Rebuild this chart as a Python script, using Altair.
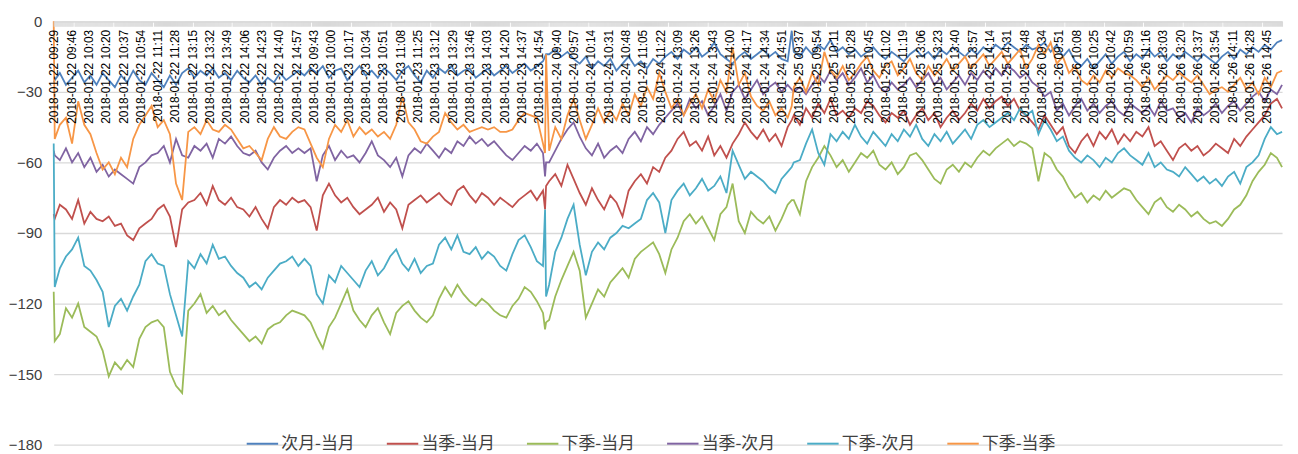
import json
import altair as alt
import pandas as pd

# ---------------- categories (minute bars) ----------------
days = ["2018-01-22", "2018-01-23", "2018-01-24", "2018-01-25", "2018-01-26"]
times = []
for di, d in enumerate(days):
    if di == 0:
        times.append(f"{d} 09:29")
    for m in range(9 * 60 + 30, 11 * 60 + 31):
        times.append(f"{d} {m // 60:02d}:{m % 60:02d}")
    for m in range(13 * 60 + 1, 15 * 60 + 1):
        times.append(f"{d} {m // 60:02d}:{m % 60:02d}")
tick_labels = times[::17]
n_cat = len(times)

# sampled category positions (index into times)
sample_idx = ([0, 1] + list(range(6, 481, 6)) + [482, 483] + list(range(486, 721, 6))
              + [724] + list(range(726, 1201, 6)) + [1205])

series_names = ["次月-当月", "当季-当月", "下季-当月", "当季-次月", "下季-次月", "下季-当季"]
series_colors = ["#4F81BD", "#C0504D", "#9BBB59", "#8064A2", "#4BACC6", "#F79646"]

# ---------------- values ----------------
blue = ([-26, -25, -22, -27, -24, -21, -26, -23, -27, -22, -25, -28, -23, -26, -21, -25, -27, -22, -25, -28, -23,
         -27, -22, -20, -24, -21, -23, -20, -24, -22, -25, -21, -24, -26, -23, -27, -24, -26, -22, -25, -23, -21]
        + [-23, -20, -22, -19, -24, -21, -20, -25, -22, -19, -23, -21, -24, -20, -22, -25, -21, -19, -23, -26,
           -21, -24, -20, -22, -19, -23, -21, -20, -24, -22, -20, -23, -21, -19, -22, -20, -18, -21, -19, -17]
        + [-15, -14]
        + [-14, -12, -15, -13, -16, -18, -15, -20, -17, -19, -16, -21, -18, -15, -19, -17, -20, -16, -18, -15,
           -13, -16, -12, -14, -11, -15, -13, -9, -14, -16, -18, -15, -13, -16, -14, -12, -15, -13, -16, -17]
        + [-4]
        + [-13, -15, -11, -14, -10, -12, -8, -13, -11, -14, -12, -15, -13, -11, -14, -16, -13, -15, -17, -14,
           -12, -15, -13, -16, -12, -14, -11, -13, -15, -12, -14, -11, -13, -10, -12, -9, -11, -13, -10, -12]
        + [-11, -9, -13, -10, -15, -12, -17, -19, -16, -20, -17, -14, -18, -15, -13, -17, -14, -16, -12, -15,
           -13, -17, -14, -16, -13, -15, -17, -14, -16, -18, -15, -13, -16, -12, -14, -11, -13, -10, -12, -9, -8])

red = ([-82, -84, -78, -80, -84, -76, -86, -81, -84, -85, -83, -87, -86, -91, -93, -88, -86, -84, -80, -78, -83,
        -96, -80, -77, -76, -73, -78, -70, -76, -78, -75, -79, -80, -83, -79, -84, -88, -79, -76, -78, -75, -77]
       + [-76, -79, -89, -74, -69, -74, -77, -75, -79, -82, -80, -78, -75, -81, -77, -80, -88, -78, -76, -74,
          -77, -75, -73, -76, -78, -72, -70, -74, -77, -73, -75, -78, -75, -77, -79, -76, -74, -72, -76, -72]
       + [-80, -70]
       + [-68, -65, -70, -61, -67, -73, -78, -71, -76, -80, -74, -77, -83, -72, -68, -65, -69, -62, -64, -58,
          -55, -50, -47, -53, -51, -55, -49, -57, -53, -58, -52, -48, -43, -47, -50, -46, -51, -48, -53, -45]
       + [-42]
       + [-40, -44, -37, -41, -35, -39, -33, -40, -38, -41, -37, -39, -34, -36, -40, -43, -39, -41, -38, -44,
          -40, -37, -42, -39, -45, -41, -38, -42, -39, -35, -38, -33, -37, -34, -32, -36, -33, -38, -40, -43]
       + [-46, -40, -44, -48, -45, -53, -56, -51, -48, -53, -47, -50, -46, -52, -48, -51, -47, -49, -45, -53,
          -51, -55, -59, -54, -52, -55, -53, -57, -55, -52, -54, -56, -50, -53, -49, -46, -43, -40, -35, -33, -37])

green = ([-115, -136, -133, -122, -126, -120, -130, -132, -134, -140, -151, -145, -148, -144, -147, -135, -130,
          -128, -127, -130, -149, -155, -158, -123, -120, -116, -124, -121, -125, -123, -127, -130, -133, -136,
          -134, -137, -131, -129, -128, -125, -123, -124]
         + [-125, -128, -134, -139, -130, -126, -120, -114, -123, -127, -130, -125, -122, -128, -133, -124, -121,
            -119, -123, -126, -128, -125, -118, -113, -117, -112, -116, -119, -121, -118, -120, -123, -125, -126,
            -121, -118, -113, -115, -119, -124]
         + [-131, -128]
         + [-127, -117, -110, -104, -98, -106, -126, -120, -114, -117, -111, -108, -105, -109, -101, -98, -96, -94,
            -99, -107, -97, -92, -85, -82, -86, -83, -88, -93, -82, -79, -69, -85, -90, -81, -84, -86, -83, -89,
            -84, -78]
         + [-76]
         + [-76, -82, -68, -62, -58, -53, -57, -62, -59, -64, -60, -56, -58, -55, -61, -63, -60, -65, -62, -57,
            -56, -59, -63, -67, -69, -63, -61, -64, -60, -62, -58, -55, -57, -54, -52, -50, -53, -51, -52, -54]
         + [-68, -56, -58, -63, -66, -71, -75, -73, -77, -74, -76, -72, -75, -73, -71, -72, -76, -79, -82, -77,
            -75, -79, -81, -78, -80, -83, -81, -84, -86, -85, -87, -84, -80, -78, -74, -68, -64, -61, -56, -58, -62])

purple = ([-55, -57, -59, -54, -60, -56, -62, -58, -64, -61, -66, -63, -65, -67, -69, -62, -60, -57, -56, -53, -60,
           -50, -57, -58, -53, -55, -52, -58, -50, -52, -49, -53, -56, -57, -55, -60, -63, -58, -55, -53, -56, -54]
          + [-56, -54, -68, -57, -53, -59, -55, -58, -57, -60, -56, -51, -57, -59, -62, -58, -66, -57, -54, -56,
             -52, -55, -58, -54, -56, -51, -53, -49, -52, -50, -53, -51, -54, -57, -59, -56, -53, -55, -52, -56]
          + [-66, -60]
          + [-60, -55, -50, -46, -43, -49, -54, -57, -52, -58, -55, -53, -56, -50, -47, -51, -45, -48, -44, -41,
             -38, -35, -40, -33, -37, -34, -40, -36, -31, -38, -30, -27, -33, -29, -25, -31, -28, -26, -30, -27]
          + [-29]
          + [-30, -28, -31, -27, -23, -26, -21, -25, -22, -27, -24, -20, -26, -23, -28, -30, -26, -29, -27, -24,
             -28, -25, -22, -27, -24, -29, -26, -23, -27, -22, -25, -21, -24, -20, -23, -19, -21, -24, -22, -26]
          + [-28, -32, -30, -38, -35, -40, -36, -33, -38, -35, -39, -36, -34, -38, -40, -35, -37, -39, -36, -40,
             -34, -38, -37, -41, -39, -43, -37, -40, -38, -35, -39, -36, -34, -38, -35, -32, -30, -34, -29, -31, -27])

teal = ([-52, -113, -105, -100, -97, -92, -104, -106, -110, -115, -130, -121, -118, -123, -117, -112, -102, -99,
         -103, -104, -116, -125, -134, -102, -105, -99, -103, -95, -101, -100, -104, -107, -109, -113, -111, -114,
         -109, -106, -103, -102, -100, -104]
        + [-101, -104, -116, -120, -108, -111, -104, -107, -110, -113, -106, -102, -108, -105, -100, -97, -103, -106,
           -101, -107, -104, -103, -95, -92, -97, -91, -98, -99, -96, -101, -98, -100, -104, -106, -99, -93, -91,
           -96, -102, -104]
        + [-80, -117]
        + [-112, -98, -92, -84, -78, -95, -108, -98, -94, -97, -92, -90, -87, -88, -86, -84, -76, -73, -77, -90,
           -76, -72, -69, -74, -71, -67, -72, -70, -66, -73, -55, -61, -67, -64, -66, -68, -71, -73, -67, -64]
        + [-62]
        + [-60, -59, -52, -46, -56, -61, -48, -51, -47, -50, -44, -49, -52, -47, -50, -53, -48, -51, -46, -49,
           -44, -50, -53, -48, -51, -47, -52, -49, -46, -50, -44, -42, -45, -43, -41, -39, -42, -37, -40, -38]
        + [-48, -42, -46, -51, -49, -55, -58, -60, -57, -59, -62, -58, -60, -56, -54, -57, -59, -61, -56, -62,
           -60, -63, -64, -66, -62, -65, -68, -66, -69, -67, -70, -66, -64, -69, -62, -60, -57, -50, -45, -48, -47])

orange = ([0, -50, -44, -41, -52, -34, -44, -48, -56, -63, -60, -65, -58, -62, -50, -44, -40, -36, -45, -42, -48,
           -69, -76, -47, -45, -48, -42, -46, -47, -44, -46, -50, -54, -53, -56, -59, -50, -45, -49, -50, -47, -45]
          + [-46, -52, -58, -62, -50, -44, -47, -42, -49, -45, -48, -46, -49, -47, -50, -44, -32, -43, -46, -51,
             -52, -49, -47, -39, -43, -46, -44, -47, -46, -45, -46, -45, -47, -47, -46, -42, -39, -40, -41, -52]
          + [-56, -14]
          + [-55, -45, -50, -40, -33, -42, -50, -44, -37, -43, -38, -42, -35, -40, -31, -36, -28, -33, -22, -30,
             -37, -33, -40, -35, -31, -37, -29, -34, -25, -30, -11, -27, -22, -32, -36, -38, -34, -40, -37, -41]
          + [-36]
          + [-28, -24, -30, -22, -27, -13, -21, -24, -19, -25, -22, -18, -15, -21, -24, -19, -17, -23, -20, -16,
             -22, -25, -19, -23, -20, -16, -21, -18, -15, -20, -17, -14, -19, -16, -13, -18, -15, -12, -20, -16]
          + [-10, -14, -9, -18, -15, -22, -19, -25, -27, -23, -26, -21, -24, -20, -22, -23, -25, -28, -24, -29,
             -26, -23, -25, -22, -24, -26, -23, -27, -31, -29, -28, -30, -27, -24, -29, -26, -31, -24, -28, -22, -21])

series_values = [blue, red, green, purple, teal, orange]

rows = []
for name, vals in zip(series_names, series_values):
    for i, v in zip(sample_idx, vals):
        rows.append({"idx": i, "value": v, "series": name})
df = pd.DataFrame(rows)

PLOT_W, PLOT_H = 1236, 426

label_expr = ("datum.value % 17 === 0 ? " + json.dumps(tick_labels, ensure_ascii=False)
              + "[round(datum.value / 17)] : ''")

x_axis = alt.Axis(
    values=list(range(n_cat)),
    labelExpr=label_expr,
    orient="bottom",
    offset=-PLOT_H,
    labelAngle=270,
    labelFont="Liberation Sans",
    labelFontSize=12,
    labelColor="#000000",
    labelOverlap=False,
    labelBound=False,
    labelFlush=False,
    labelPadding=3,
    tickSize=5,
    tickColor="#d9d9d9",
    tickWidth=1,
    domainColor="#d9d9d9",
    domainWidth=1,
    grid=False,
    title=None,
    zindex=1,
)

y_axis = alt.Axis(
    values=list(range(-180, 1, 30)),
    labelFont="Liberation Sans",
    labelFontSize=15,
    labelColor="#404040",
    labelPadding=12,
    domain=False,
    ticks=False,
    grid=True,
    gridColor="#d9d9d9",
    gridWidth=1.3,
    title=None,
)

legend = alt.Legend(
    orient="none",
    legendX=193,
    legendY=408,
    direction="horizontal",
    columns=6,
    title=None,
    symbolType="stroke",
    symbolSize=1000,
    symbolStrokeWidth=2,
    labelFont="Noto Sans CJK SC",
    labelFontSize=17,
    labelColor="#404040",
    labelOffset=2,
    columnPadding=28,
    padding=0,
)

chart = (
    alt.Chart(df)
    .mark_line(strokeWidth=1.8)
    .encode(
        x=alt.X("idx:Q", scale=alt.Scale(domain=[0, n_cat - 1], nice=False, zero=False), axis=x_axis),
        y=alt.Y("value:Q", scale=alt.Scale(domain=[-180, 0], nice=False), axis=y_axis),
        color=alt.Color("series:N", scale=alt.Scale(domain=series_names, range=series_colors),
                        sort=series_names, legend=legend),
        order=alt.Order("idx:Q"),
    )
    .properties(
        width=PLOT_W,
        height=PLOT_H,
        autosize=alt.AutoSizeParams(type="none"),
        padding={"left": 46, "top": 12, "right": 8, "bottom": 8},
    )
    .configure_view(stroke=None)
)

chart.save("out.html", embed_options={"renderer": "svg", "actions": False})
